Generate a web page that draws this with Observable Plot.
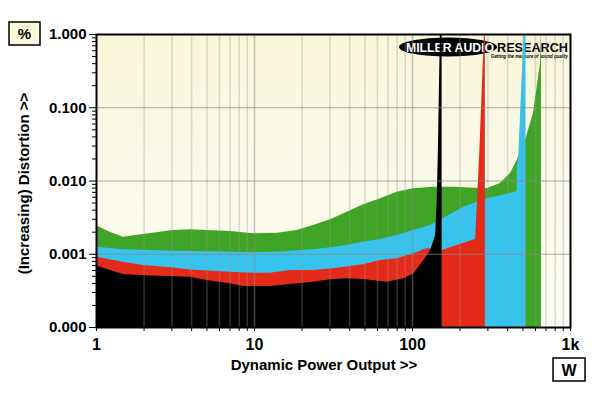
<!DOCTYPE html>
<html><head><meta charset="utf-8">
<script src="https://cdn.jsdelivr.net/npm/d3@7"></script>
<script src="https://cdn.jsdelivr.net/npm/@observablehq/plot@0.6"></script>
<style>html,body{margin:0;padding:0;background:#fff;} #chart{width:600px;height:393px;}</style>
</head><body><div id="chart"></div>
<script>
const FLOOR = 1e-4;
const xMajor = [1, 10, 100, 1000];
const xLabels = ["1", "10", "100", "1k"];
const yMajor = [0.0001, 0.001, 0.01, 0.1, 1];
const yLabels = ["0.000", "0.001", "0.010", "0.100", "1.000"];
const seriesColors = ["#40a526", "#36c4ef", "#e42b19", "#000000"];

// [power W, distortion %]
const green = [[1,0.00245],[1.23,0.00198],[1.48,0.00171],[1.98,0.00186],[3.07,0.00211],[3.94,0.00216],[5.02,0.00211],[7.05,0.00205],[9.86,0.0019],[14,0.00194],[18.6,0.00211],[23.6,0.00247],[30.3,0.00295],[38.6,0.00375],[49,0.00473],[62.7,0.00571],[80,0.00703],[101,0.00782],[136,0.00823],[182,0.00823],[269,0.0079],[298,0.0079],[360,0.00924],[417,0.0127],[460,0.019],[519,0.0357],[583,0.0835],[646,0.402],[653,1],[655,1],[655,FLOOR]];
const cyan = [[1,0.00125],[1.48,0.00115],[3.07,0.0011],[6.36,0.00107],[9.86,0.00105],[14.6,0.00107],[23.6,0.00115],[30.3,0.00123],[38.6,0.00132],[49,0.00146],[62.7,0.00159],[80,0.0018],[101,0.00211],[130,0.00247],[158,0.0031],[211,0.00439],[297,0.00571],[449,0.00703],[460,0.0075],[460,0.0163],[469,0.019],[508,1],[523,1],[523,FLOOR]];
const red = [[1,0.00091],[1.48,0.00078],[1.98,0.0007],[3.07,0.00065],[3.94,0.00061],[7.05,0.00057],[9.86,0.00055],[12.6,0.00055],[16.9,0.0006],[23.6,0.0006],[30.3,0.00063],[38.6,0.00067],[49,0.00072],[62.7,0.00082],[80,0.00087],[101,0.00101],[124,0.0012],[154,0.00112],[183,0.00128],[244,0.00157],[251,0.00159],[267,0.026],[285,1],[289,1],[289,FLOOR]];
const black = [[1,0.00069],[1.48,0.00053],[2.2,0.000505],[3.94,0.000486],[5.02,0.000438],[7.05,0.000395],[8.52,0.000363],[12.6,0.000363],[16.9,0.000386],[23.6,0.000416],[30.3,0.000448],[38.6,0.000462],[49,0.000452],[69.2,0.000416],[88.1,0.000462],[102,0.00054],[118,0.00082],[130,0.00112],[140,0.0018],[143,0.0046],[146,0.03],[150,1],[154,1],[154,FLOOR]];
const seriesList = [green, cyan, red, black];

const minorX = [];
for (const d of [1, 10, 100]) for (let m = 1; m < 10; m++) minorX.push(d * m);
minorX.push(1000);
const minorY = [];
for (const d of [1e-4, 1e-3, 1e-2, 1e-1]) for (let m = 2; m < 10; m++) minorY.push(d * m);

const font = "'Liberation Sans', Arial, Helvetica, sans-serif";

const areas = seriesList.map((s, i) => Plot.areaY(s, {
  x: d => d[0], y1: () => FLOOR, y2: d => d[1], fill: seriesColors[i], curve: "linear", clip: true
}));

const svg = Plot.plot({
  width: 600, height: 393,
  marginTop: 34, marginRight: 30, marginBottom: 66, marginLeft: 96,
  style: {fontFamily: font, background: "white", overflow: "visible", color: "black"},
  x: {type: "log", domain: [1, 1000]},
  y: {type: "log", domain: [1e-4, 1]},
  marks: [
    Plot.frame({fill: "url(#bgGrad)", stroke: "none"}),
    ...areas,
    Plot.ruleX(minorX.filter(d => !xMajor.includes(d)), {stroke: "#999", strokeOpacity: 0.33, strokeWidth: 1.5}),
    Plot.ruleX([10, 100], {stroke: "#888", strokeOpacity: 0.5, strokeWidth: 1.5}),
    Plot.ruleY(yMajor.slice(1, -1), {stroke: "#888", strokeOpacity: 0.75, strokeWidth: 1.2}),
    Plot.axisY(minorY, {tickSize: 4, tickFormat: () => "", label: null}),
    Plot.axisY(yMajor, {tickSize: 7, tickPadding: 3, tickFormat: d => yLabels[yMajor.indexOf(d)], fontSize: 15, fontWeight: "bold", label: null}),
    Plot.axisX(minorX, {tickSize: 4, tickPadding: 7, tickFormat: d => { const i = xMajor.indexOf(d); return i >= 0 ? xLabels[i] : ""; }, fontSize: 16, fontWeight: "bold", label: null}),
    Plot.frame({stroke: "black", strokeWidth: 2})
  ]
});

const s = d3.select(svg);
const defs = s.insert("defs", ":first-child");
const g = defs.append("linearGradient").attr("id", "bgGrad").attr("x1", 0).attr("y1", 0).attr("x2", 0).attr("y2", 1);
g.append("stop").attr("offset", "0%").attr("stop-color", "#f9f6da");
g.append("stop").attr("offset", "100%").attr("stop-color", "#fefdf5");

// logo behind the areas
const logo = s.insert("g", 'g[aria-label="area"]').attr("text-anchor", "start");
logo.append("ellipse").attr("cx", 448).attr("cy", 47).attr("rx", 49).attr("ry", 9.5).attr("fill", "black");
logo.append("text").attr("x", 406).attr("y", 51.5).attr("fill", "white").attr("font-weight", 900)
  .attr("font-size", 12).attr("textLength", 88).attr("lengthAdjust", "spacingAndGlyphs").text("MILLER AUDIO");
logo.append("text").attr("x", 497).attr("y", 51.5).attr("fill", "black").attr("font-weight", 900)
  .attr("font-size", 12).attr("textLength", 71).attr("lengthAdjust", "spacingAndGlyphs").text("RESEARCH");
logo.append("text").attr("x", 491).attr("y", 58).attr("fill", "black").attr("font-weight", "bold").attr("font-style", "italic")
  .attr("font-size", 5).attr("textLength", 77).attr("lengthAdjust", "spacingAndGlyphs").text("Getting the measure of sound quality");

// titles
s.append("text").attr("x", 324).attr("y", 370).attr("text-anchor", "middle").attr("font-size", 15).attr("font-weight", "bold")
  .text("Dynamic Power Output >>");
s.append("text").attr("transform", "translate(29,183.5) rotate(-90)").attr("text-anchor", "middle").attr("font-size", 15).attr("font-weight", "bold")
  .text("(Increasing) Distortion >>");
// unit boxes
s.append("rect").attr("x", 9).attr("y", 22).attr("width", 31).attr("height", 23).attr("fill", "#fbf8dc").attr("stroke", "black").attr("stroke-width", 1.5);
s.append("text").attr("x", 24.5).attr("y", 39).attr("text-anchor", "middle").attr("font-size", 15).attr("font-weight", "bold").text("%");
s.append("rect").attr("x", 553).attr("y", 358).attr("width", 32).attr("height", 23).attr("fill", "white").attr("stroke", "black").attr("stroke-width", 1.5);
s.append("text").attr("x", 569).attr("y", 375.5).attr("text-anchor", "middle").attr("font-size", 16).attr("font-weight", "bold").text("W");

document.getElementById("chart").appendChild(svg);
</script>
</body></html>
